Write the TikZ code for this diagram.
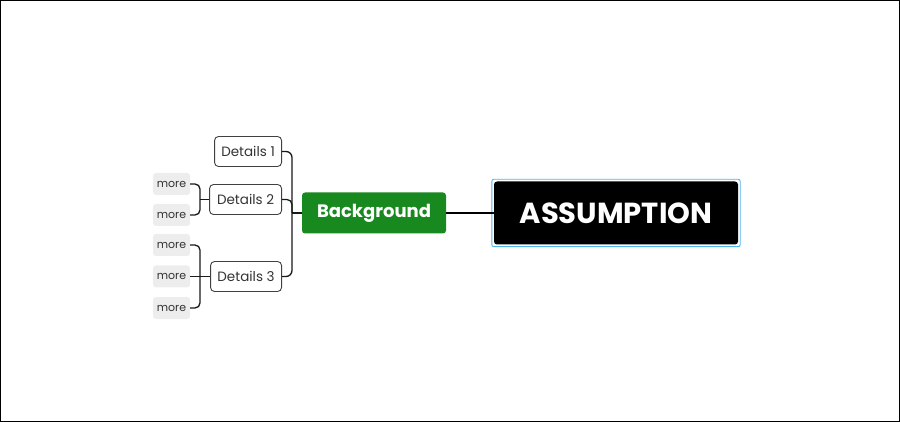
\documentclass[tikz,border=0pt]{standalone}
\usepackage{fontspec}
\setmainfont{Poppins}
\usetikzlibrary{calc}
\definecolor{bggreen}{HTML}{17891E}
\definecolor{selblue}{HTML}{4FB3EE}
\definecolor{moregray}{HTML}{EDEDED}
\definecolor{txtgray}{HTML}{333333}
\tikzset{
  mainbox/.style={fill=black, text=white, rounded corners=3pt, minimum width=244pt, minimum height=63pt, inner sep=0pt, font=\fontsize{29}{31}\selectfont\bfseries},
  bgbox/.style={fill=bggreen, text=white, rounded corners=3pt, minimum width=144pt, minimum height=41pt, inner sep=0pt, font=\fontsize{18}{20}\selectfont\bfseries},
  detbox/.style={draw=black!75, line width=0.9pt, fill=white, text=txtgray, rounded corners=4pt, minimum height=30pt, inner sep=0pt, font=\fontsize{13.5}{15}\selectfont},
  morebox/.style={fill=moregray, text=txtgray, rounded corners=3pt, minimum width=37pt, minimum height=22pt, inner sep=0pt, font=\fontsize{11}{13}\selectfont},
  conn/.style={line width=1.3pt, black!90},
  thick conn/.style={line width=2pt, black}
}
\begin{document}
\begin{tikzpicture}[x=1pt,y=-1pt]
\useasboundingbox (0,0) rectangle (900,422);
\draw[black, line width=1pt] (0.5,0.5) rectangle (899.5,421.5);

\node[mainbox] (as) at (616,213) {ASSUMPTION};
\draw[selblue, line width=0.9pt, rounded corners=2pt] ([shift={(-2,-2)}]as.north west) rectangle ([shift={(2,2)}]as.south east);

\node[bgbox] (bg) at (374,213) {Background};

\node[detbox, minimum width=67pt, anchor=east] (d1) at (282,151.5) {Details 1};
\node[detbox, minimum width=72pt, anchor=east] (d2) at (282,199.5) {Details 2};
\node[detbox, minimum width=71pt, anchor=east] (d3) at (282,276.5) {Details 3};

\node[morebox] (m21) at (171.5,184) {more};
\node[morebox] (m22) at (171.5,215) {more};
\node[morebox] (m31) at (171.5,245) {more};
\node[morebox] (m32) at (171.5,276.5) {more};
\node[morebox] (m33) at (171.5,308) {more};

\coordinate (j) at (292,213);
\coordinate (j2) at (200,199.5);
\coordinate (j3) at (200,276.5);

\draw[thick conn] (bg.east) -- (as.west);
\draw[conn] (bg.west) -- (j);
\draw[conn, rounded corners=6pt] (d1.east) -| (j) |- (d3.east);
\draw[conn, rounded corners=5pt] (d2.east) -| (j);

\draw[conn] (d2.west) -- (j2);
\draw[conn, rounded corners=5pt] (m21.east) -| (j2) |- (m22.east);

\draw[conn] (d3.west) -- (m32.east);
\draw[conn, rounded corners=5pt] (m31.east) -| (j3) |- (m33.east);
\end{tikzpicture}
\end{document}
